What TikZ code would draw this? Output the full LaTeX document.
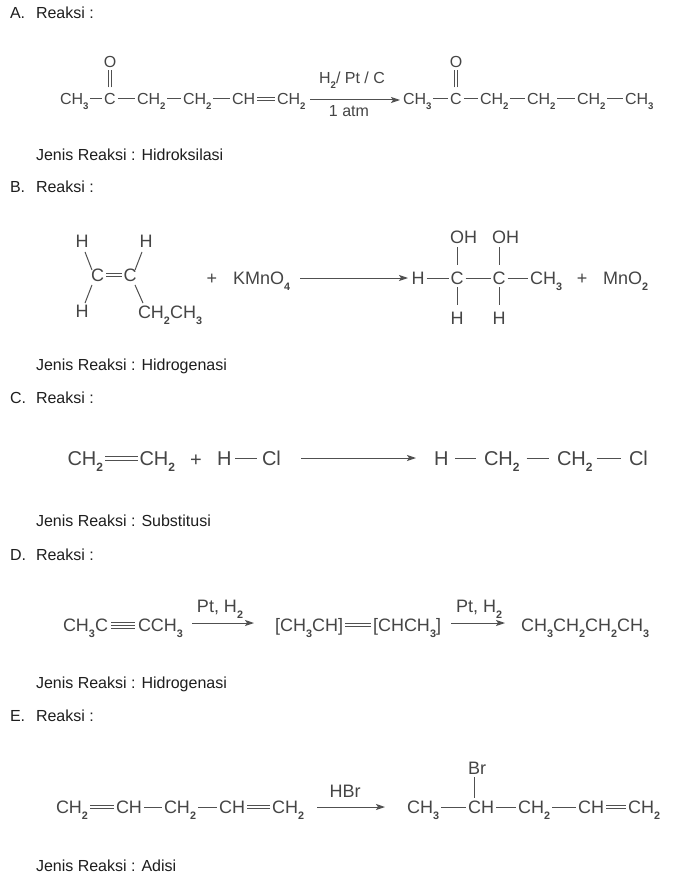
\documentclass[tikz,border=0pt]{standalone}
\usepackage{fontspec}
\usepackage{graphicx}
\setmainfont{Liberation Sans}
\usetikzlibrary{arrows.meta}
\definecolor{chemc}{HTML}{454545}
\definecolor{bondc}{HTML}{505050}
\definecolor{lblc}{HTML}{1E1E1E}
\newcommand{\ssub}[1]{\raisebox{-0.32em}{\scalebox{0.6}{\bfseries #1}}}
\tikzset{
  chem/.style={inner sep=0pt, outer sep=0pt, text=chemc, text depth=0pt},
  chA/.style={chem, font=\fontsize{16}{16}\selectfont, text height=11.46pt},
  chB/.style={chem, font=\fontsize{18}{18}\selectfont, text height=12.89pt},
  chC/.style={chem, font=\fontsize{20}{20}\selectfont, text height=14.32pt},
  chD/.style={chem, font=\fontsize{18}{18}\selectfont, text height=12.89pt},
  chE/.style={chem, font=\fontsize{18}{18}\selectfont, text height=12.89pt},
  lbl/.style={inner sep=0pt, outer sep=0pt, text=lblc, text depth=0pt, text height=11.46pt,
              font=\fontsize{16}{16}\selectfont, anchor=west},
  bond/.style={draw=bondc, line width=1pt},
  rxn/.style={draw=bondc, line width=1pt, -{Stealth[length=9pt,width=6pt,inset=2pt]}},
}
\begin{document}
\begin{tikzpicture}[x=1pt,y=-1pt]
\fill[white] (0,0) rectangle (674,885);
\useasboundingbox (0,0) rectangle (674,885);

% ---------------- A ----------------
\node[lbl] (hA) at (10,13) {A.};
\node[lbl] (rA) at (36,13) {Reaksi :};
\node[chA,anchor=west] (a1) at (60,99) {CH\ssub{3}};
\node[chA] (a2) at (110,99) {C};
\node[chA] (aO) at (110,62) {O};
\node[chA,anchor=west] (a3) at (137,99) {CH\ssub{2}};
\node[chA,anchor=west] (a4) at (183,99) {CH\ssub{2}};
\node[chA,anchor=west] (a5) at (232,99) {CH};
\node[chA,anchor=west] (a6) at (277,99) {CH\ssub{2}};
\draw[bond] ([xshift=2pt]a1.east) -- ([xshift=-2pt]a2.west);
\draw[bond] ([xshift=2pt]a2.east) -- ([xshift=-2pt]a3.west);
\draw[bond] ([xshift=2pt]a3.east) -- ([xshift=-2pt]a4.west);
\draw[bond] ([xshift=2pt]a4.east) -- ([xshift=-2pt]a5.west);
\draw[bond] ([xshift=2pt,yshift=1.5pt]a5.east) -- ([xshift=-2pt,yshift=1.5pt]a6.west);
\draw[bond] ([xshift=2pt,yshift=-1.5pt]a5.east) -- ([xshift=-2pt,yshift=-1.5pt]a6.west);
\draw[bond] ([xshift=-1.6pt,yshift=6pt]a2.north) -- ([xshift=-1.6pt,yshift=-2.5pt]aO.south);
\draw[bond] ([xshift=1.6pt,yshift=6pt]a2.north) -- ([xshift=1.6pt,yshift=-2.5pt]aO.south);
\coordinate (aS) at (310,100);
\coordinate (aE) at (400,100);
\draw[rxn] (aS) -- (aE);
\node[chA] (aL1) at (352,78) {H\ssub{2}/ Pt / C};
\node[chA] (aL2) at (349,111) {1 atm};
\node[chA,anchor=west] (p1) at (403,99) {CH\ssub{3}};
\node[chA] (p2) at (456,99) {C};
\node[chA] (pO) at (456,62) {O};
\node[chA,anchor=west] (p3) at (480,99) {CH\ssub{2}};
\node[chA,anchor=west] (p4) at (527,99) {CH\ssub{2}};
\node[chA,anchor=west] (p5) at (577,99) {CH\ssub{2}};
\node[chA,anchor=west] (p6) at (625,99) {CH\ssub{3}};
\draw[bond] ([xshift=2pt]p1.east) -- ([xshift=-2pt]p2.west);
\draw[bond] ([xshift=2pt]p2.east) -- ([xshift=-2pt]p3.west);
\draw[bond] ([xshift=2pt]p3.east) -- ([xshift=-2pt]p4.west);
\draw[bond] ([xshift=2pt]p4.east) -- ([xshift=-2pt]p5.west);
\draw[bond] ([xshift=2pt]p5.east) -- ([xshift=-2pt]p6.west);
\draw[bond] ([xshift=-1.6pt,yshift=6pt]p2.north) -- ([xshift=-1.6pt,yshift=-2.5pt]pO.south);
\draw[bond] ([xshift=1.6pt,yshift=6pt]p2.north) -- ([xshift=1.6pt,yshift=-2.5pt]pO.south);
\node[lbl] (jA) at (36,155) {Jenis Reaksi : Hidroksilasi};

% ---------------- B ----------------
\node[lbl] (hB) at (10,187) {B.};
\node[lbl] (rB) at (36,187) {Reaksi :};
\node[chB] (bH1) at (82,241) {H};
\node[chB] (bH2) at (146,241) {H};
\node[chB] (bC1) at (97.5,275) {C};
\node[chB] (bC2) at (130,275) {C};
\node[chB] (bH3) at (82,311) {H};
\node[chB,anchor=west] (bE) at (138,312) {CH\ssub{2}CH\ssub{3}};
\draw[bond] ([xshift=-3.5pt,yshift=-4.5pt]bH1.south east) -- ([xshift=1pt,yshift=-1.5pt]bC1.north west);
\draw[bond] ([xshift=2.5pt,yshift=-4.5pt]bH2.south west) -- ([xshift=-1.5pt,yshift=-1.5pt]bC2.north east);
\draw[bond] ([xshift=1pt,yshift=-3.5pt]bC1.south west) -- ([xshift=-3.5pt,yshift=1.5pt]bH3.north east);
\draw[bond] ([xshift=-1.5pt,yshift=-3.5pt]bC2.south east) -- ([xshift=5pt,yshift=2.5pt]bE.north west);
\draw[bond] ([xshift=2pt,yshift=1.5pt]bC1.east) -- ([xshift=-2pt,yshift=1.5pt]bC2.west);
\draw[bond] ([xshift=2pt,yshift=-1.5pt]bC1.east) -- ([xshift=-2pt,yshift=-1.5pt]bC2.west);
\node[chB] (bPlus) at (212,278) {+};
\node[chB,anchor=west] (bK) at (233,278) {KMnO\ssub{4}};
\coordinate (bS) at (300,278);
\coordinate (bT) at (408,278);
\draw[rxn] (bS) -- (bT);
\node[chB] (pH) at (418,278) {H};
\node[chB] (pC1) at (457,278) {C};
\node[chB] (pC2) at (499,278) {C};
\node[chB,anchor=west] (pCH3) at (530,278) {CH\ssub{3}};
\node[chB] (pPlus) at (582,278) {+};
\node[chB,anchor=west] (pMn) at (603,278) {MnO\ssub{2}};
\node[chB,anchor=west] (pOH1) at (450,237.5) {OH};
\node[chB,anchor=west] (pOH2) at (492,237.5) {OH};
\node[chB] (pHb1) at (457,318.5) {H};
\node[chB] (pHb2) at (499,318.5) {H};
\draw[bond] ([xshift=2pt]pH.east) -- ([xshift=-2pt]pC1.west);
\draw[bond] ([xshift=2pt]pC1.east) -- ([xshift=-2pt]pC2.west);
\draw[bond] ([xshift=2pt]pC2.east) -- ([xshift=-2pt]pCH3.west);
\draw[bond, shorten <=6.6pt, shorten >=3pt] (pC1.north) -- (pC1.north |- pOH1.south);
\draw[bond, shorten <=6.6pt, shorten >=3pt] (pC2.north) -- (pC2.north |- pOH2.south);
\draw[bond, shorten <=3pt, shorten >=7pt] (pC1.south) -- (pHb1.north);
\draw[bond, shorten <=3pt, shorten >=7pt] (pC2.south) -- (pHb2.north);
\node[lbl] (jB) at (36,365) {Jenis Reaksi : Hidrogenasi};

% ---------------- C ----------------
\node[lbl] (hC) at (10,398) {C.};
\node[lbl] (rC) at (36,398) {Reaksi :};
\node[chC,anchor=west] (c1) at (67.5,458) {CH\ssub{2}};
\node[chC,anchor=west] (c2) at (139.5,458) {CH\ssub{2}};
\node[chC] (cPlus) at (196,459) {+};
\node[chC,anchor=west] (cH) at (217,458) {H};
\node[chC,anchor=west] (cCl) at (262,458) {Cl};
\draw[bond] ([xshift=2pt,yshift=2pt]c1.east) -- ([xshift=-2pt,yshift=2pt]c2.west);
\draw[bond] ([xshift=2pt,yshift=-2pt]c1.east) -- ([xshift=-2pt,yshift=-2pt]c2.west);
\draw[bond] ([xshift=4pt]cH.east) -- ([xshift=-5pt]cCl.west);
\coordinate (cS) at (301,458);
\coordinate (cT) at (416,458);
\draw[rxn] (cS) -- (cT);
\node[chC,anchor=west] (cpH) at (434,458) {H};
\node[chC,anchor=west] (cp1) at (484,458) {CH\ssub{2}};
\node[chC,anchor=west] (cp2) at (557,458) {CH\ssub{2}};
\node[chC,anchor=west] (cpCl) at (629,458) {Cl};
\draw[bond] ([xshift=7pt]cpH.east) -- ([xshift=-8pt]cp1.west);
\draw[bond] ([xshift=7pt]cp1.east) -- ([xshift=-8pt]cp2.west);
\draw[bond] ([xshift=4pt]cp2.east) -- ([xshift=-8pt]cpCl.west);
\node[lbl] (jC) at (36,521) {Jenis Reaksi : Substitusi};

% ---------------- D ----------------
\node[lbl] (hD) at (10,555) {D.};
\node[lbl] (rD) at (36,555) {Reaksi :};
\node[chD,anchor=west] (d1) at (63,625) {CH\ssub{3}C};
\node[chD,anchor=west] (d2) at (138,625) {CCH\ssub{3}};
\draw[bond] ([xshift=3pt,yshift=3pt]d1.east) -- ([xshift=-3pt,yshift=3pt]d2.west);
\draw[bond] ([xshift=3pt]d1.east) -- ([xshift=-3pt]d2.west);
\draw[bond] ([xshift=3pt,yshift=-3pt]d1.east) -- ([xshift=-3pt,yshift=-3pt]d2.west);
\coordinate (dS1) at (192,623);
\coordinate (dT1) at (254,623);
\draw[rxn] (dS1) -- (dT1);
\node[chD] (dL1) at (220,606) {Pt, H\ssub{2}};
\node[chD,anchor=west] (d3) at (275,625) {[CH\ssub{3}CH]};
\node[chD,anchor=west] (d4) at (373,625) {[CHCH\ssub{3}]};
\draw[bond] ([xshift=2pt,yshift=1.8pt]d3.east) -- ([xshift=-2pt,yshift=1.8pt]d4.west);
\draw[bond] ([xshift=2pt,yshift=-1.8pt]d3.east) -- ([xshift=-2pt,yshift=-1.8pt]d4.west);
\coordinate (dS2) at (451,623);
\coordinate (dT2) at (505,623);
\draw[rxn] (dS2) -- (dT2);
\node[chD] (dL2) at (479,606) {Pt, H\ssub{2}};
\node[chD,anchor=west] (d5) at (521,625) {CH\ssub{3}CH\ssub{2}CH\ssub{2}CH\ssub{3}};
\node[lbl] (jD) at (36,683) {Jenis Reaksi : Hidrogenasi};

% ---------------- E ----------------
\node[lbl] (hE) at (10,716) {E.};
\node[lbl] (rE) at (36,716) {Reaksi :};
\node[chE,anchor=west] (e1) at (56,807) {CH\ssub{2}};
\node[chE,anchor=west] (e2) at (116,807) {CH};
\node[chE,anchor=west] (e3) at (164,807) {CH\ssub{2}};
\node[chE,anchor=west] (e4) at (219,807) {CH};
\node[chE,anchor=west] (e5) at (272,807) {CH\ssub{2}};
\draw[bond] ([xshift=2pt,yshift=1.8pt]e1.east) -- ([xshift=-2pt,yshift=1.8pt]e2.west);
\draw[bond] ([xshift=2pt,yshift=-1.8pt]e1.east) -- ([xshift=-2pt,yshift=-1.8pt]e2.west);
\draw[bond] ([xshift=2pt]e2.east) -- ([xshift=-2pt]e3.west);
\draw[bond] ([xshift=2pt]e3.east) -- ([xshift=-2pt]e4.west);
\draw[bond] ([xshift=2pt,yshift=1.8pt]e4.east) -- ([xshift=-2pt,yshift=1.8pt]e5.west);
\draw[bond] ([xshift=2pt,yshift=-1.8pt]e4.east) -- ([xshift=-2pt,yshift=-1.8pt]e5.west);
\coordinate (eS) at (317,807);
\coordinate (eT) at (385,807);
\draw[rxn] (eS) -- (eT);
\node[chE] (eL) at (345,791) {HBr};
\node[chE,anchor=west] (f1) at (407,807) {CH\ssub{3}};
\node[chE,anchor=west] (f2) at (468,807) {CH};
\node[chE,anchor=west] (fBr) at (468,768) {Br};
\node[chE,anchor=west] (f3) at (518,807) {CH\ssub{2}};
\node[chE,anchor=west] (f4) at (578,807) {CH};
\node[chE,anchor=west] (f5) at (628,807) {CH\ssub{2}};
\draw[bond] ([xshift=2pt]f1.east) -- ([xshift=-2pt]f2.west);
\draw[bond] ([xshift=2pt]f2.east) -- ([xshift=-2pt]f3.west);
\draw[bond] ([xshift=2pt]f3.east) -- ([xshift=-2pt]f4.west);
\draw[bond, yshift=0pt] ([xshift=2pt,yshift=1.8pt]f4.east) -- ([xshift=-2pt,yshift=1.8pt]f5.west);
\draw[bond] ([xshift=2pt,yshift=-1.8pt]f4.east) -- ([xshift=-2pt,yshift=-1.8pt]f5.west);
\draw[bond, shorten <=3pt, shorten >=3pt] ([xshift=6.5pt]f2.north west) -- ([xshift=6.5pt]fBr.south west);
\node[lbl] (jE) at (36,866) {Jenis Reaksi : Adisi};
\end{tikzpicture}
\end{document}
